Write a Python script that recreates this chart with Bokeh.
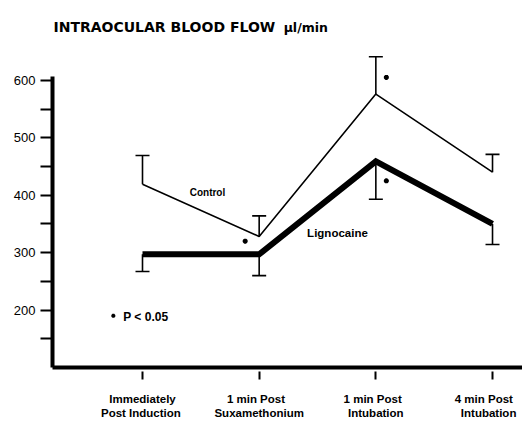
from bokeh.plotting import figure
from bokeh.models import ColumnDataSource, Whisker, FixedTicker, TeeHead, Range1d
from bokeh.core.properties import value
from bokeh.embed import file_html
from bokeh.resources import INLINE

# ---- data ----
categories = ["Immediately\nPost  Induction", "1  min  Post\nSuxamethonium",
              "1  min  Post\nIntubation", "4  min   Post\nIntubation"]
x_pos = [1, 2, 3, 4]
control_mean = [419, 328, 576, 440]
control_upper = [469, 364, 641, 471]
ligno_mean = [297, 297, 459, 350]
ligno_lower = [267, 260, 393, 314]
sig_x = [1.88, 3.09, 3.09]
sig_y = [320, 605, 425]
y_ticks = [150, 200, 250, 300, 350, 400, 450, 500, 550, 600]
y_labels = {150: "", 200: "200", 250: "", 300: "300", 350: "", 400: "400",
            450: "", 500: "500", 550: "", 600: "600"}

FONT = "Liberation Sans"
TFONT = "DejaVu Sans"

p = figure(width=522, height=421, output_backend="svg", toolbar_location=None,
           x_range=Range1d(0.2286, 4.257), y_range=Range1d(100, 738.9),
           min_border_left=52, min_border_right=0, min_border_top=0,
           min_border_bottom=53)
p.outline_line_color = None
p.xgrid.visible = False
p.ygrid.visible = False
p.background_fill_color = "white"

# y axis
ya = p.yaxis[0]
ya.ticker = FixedTicker(ticks=y_ticks)
ya.major_label_overrides = y_labels
ya.bounds = (100, 607)
ya.axis_line_width = 4
ya.axis_line_color = "black"
ya.major_tick_in = 0
ya.major_tick_out = 12
ya.major_tick_line_width = 2
ya.minor_tick_line_color = None
ya.major_label_standoff = 5
ya.major_label_text_font = FONT
ya.major_label_text_font_size = "13px"
ya.major_label_text_color = "black"

# x axis
xa = p.xaxis[0]
xa.ticker = FixedTicker(ticks=x_pos)
xa.major_label_overrides = {x: c for x, c in zip(x_pos, categories)}
xa.axis_line_width = 4
xa.axis_line_color = "black"
xa.major_tick_in = -4
xa.major_tick_out = 12
xa.major_tick_line_width = 2
xa.minor_tick_line_color = None
xa.major_label_standoff = 13
xa.major_label_text_font = FONT
xa.major_label_text_font_size = "11.5px"
xa.major_label_text_font_style = "bold"
xa.major_label_text_color = "black"
xa.major_label_text_line_height = 1.2

src = ColumnDataSource(dict(x=x_pos, cm=control_mean, cu=control_upper,
                            lm=ligno_mean, ll=ligno_lower))

# lines
p.line("x", "cm", source=src, line_width=1.6, line_color="black")
p.line("x", "lm", source=src, line_width=6, line_color="black", line_join="miter")

# error bars
p.add_layout(Whisker(base="x", lower="cm", upper="cu", source=src, dimension="height",
                     line_width=1.6, line_color="black",
                     upper_head=TeeHead(size=14, line_width=1.6, line_color="black"),
                     lower_head=None))
p.add_layout(Whisker(base="x", lower="ll", upper="lm", source=src, dimension="height",
                     line_width=1.6, line_color="black",
                     lower_head=TeeHead(size=14, line_width=1.6, line_color="black"),
                     upper_head=None))

# significance markers
p.scatter(sig_x, sig_y, marker="asterisk", size=5, line_width=1.8, line_color="black")
p.scatter([0.75], [190], marker="asterisk", size=4, line_width=1.6, line_color="black")

# texts
p.text(x=[0.835], y=[188], text=["P < 0.05"], text_font=value(FONT),
       text_font_size="12px", text_font_style="bold", text_baseline="middle",
       text_align="left", text_color="black")
p.text(x=[1.557], y=[404], text=["Control"], text_font=value(FONT),
       text_font_size="10px", text_font_style="bold", text_baseline="middle",
       text_align="center", text_color="black")
p.text(x=[2.671], y=[334], text=["Lignocaine"], text_font=value(FONT),
       text_font_size="11.5px", text_font_style="bold", text_baseline="middle",
       text_align="center", text_color="black")
p.text(x=[0.237], y=[692], text=["INTRAOCULAR BLOOD FLOW"], text_font=value(TFONT),
       text_font_size="14px", text_font_style="bold", text_baseline="alphabetic",
       text_align="left", text_color="black")
p.text(x=[2.21], y=[692], text=["\u03bcl/min"], text_font=value(TFONT),
       text_font_size="12.5px", text_font_style="bold", text_baseline="alphabetic",
       text_align="left", text_color="black")

open("out.html", "w").write(file_html(p, INLINE))
